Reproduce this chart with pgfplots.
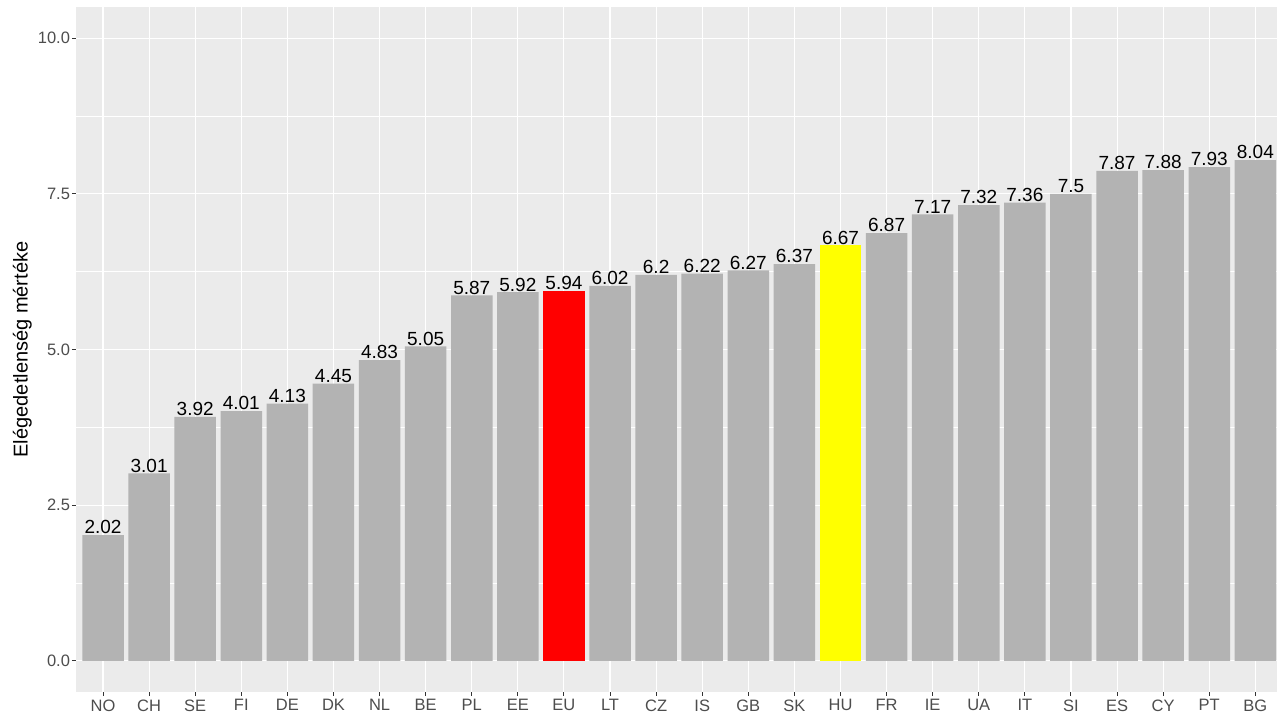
\documentclass[border=0pt]{standalone}
\usepackage{pgfplots}
\pgfplotsset{compat=1.18}
\usepackage{fontspec}
\setmainfont{Liberation Sans}
\definecolor{panel}{HTML}{EBEBEB}
\definecolor{barg}{HTML}{B3B3B3}
\definecolor{ticklab}{HTML}{4D4D4D}
\definecolor{tickc}{HTML}{333333}
\definecolor{redbar}{HTML}{FF0000}
\definecolor{yelbar}{HTML}{FFFF00}
\begin{document}
\begin{tikzpicture}
\useasboundingbox (-76bp,-25bp) rectangle (1207bp,692bp);
\begin{axis}[
  at={(0,0)}, anchor=south west,
  scale only axis, width=1201bp, height=685bp,
  xmin=0.414, xmax=26.47, ymin=-0.5, ymax=10.5,
  axis background/.style={fill=panel},
  axis line style={draw=none},
  xtick={1,...,26},
  xticklabels={NO,CH,SE,FI,DE,DK,NL,BE,PL,EE,EU,LT,CZ,IS,GB,SK,HU,FR,IE,UA,IT,SI,ES,CY,PT,BG},
  ytick={0,2.5,5,7.5,10},
  minor ytick={1.25,3.75,6.25,8.75},
  yticklabel style={xshift=1.5bp, /pgf/number format/.cd, fixed, fixed zerofill, precision=1, assume math mode=true},
  grid=both,
  major grid style={white, line width=1.1bp},
  minor grid style={white, line width=0.55bp},
  tick style={tickc, line width=1bp},
  major tick length=4bp,
  minor tick length=0pt,
  tick align=outside,
  xtick pos=left, ytick pos=left,
  ticklabel style={font=\fontsize{16.5bp}{18bp}\selectfont, text=ticklab},
  ylabel={Elégedetlenség mértéke},
  ylabel style={at={(axis description cs:0,0.5)}, anchor=south, inner sep=0pt, yshift=44bp, font=\fontsize{20bp}{22bp}\selectfont, text=black},
  nodes near coords,
  point meta=explicit symbolic,
  nodes near coords style={font=\fontsize{19bp}{21bp}\selectfont, text=black, anchor=base, inner sep=0pt, yshift=1.2bp},
]
\addplot[ybar, bar width=0.9, bar shift=0pt, fill=barg, draw=none] coordinates {
(1,2.02)[2.02] (2,3.01)[3.01] (3,3.92)[3.92] (4,4.01)[4.01] (5,4.13)[4.13]
(6,4.45)[4.45] (7,4.83)[4.83] (8,5.05)[5.05] (9,5.87)[5.87] (10,5.92)[5.92]
(12,6.02)[6.02] (13,6.2)[6.2] (14,6.22)[6.22] (15,6.27)[6.27] (16,6.37)[6.37]
(18,6.87)[6.87] (19,7.17)[7.17] (20,7.32)[7.32] (21,7.36)[7.36] (22,7.5)[7.5]
(23,7.87)[7.87] (24,7.88)[7.88] (25,7.93)[7.93] (26,8.04)[8.04]
};
\addplot[ybar, bar width=0.9, bar shift=0pt, fill=redbar, draw=none] coordinates {(11,5.94)[5.94]};
\addplot[ybar, bar width=0.9, bar shift=0pt, fill=yelbar, draw=none] coordinates {(17,6.67)[6.67]};
\end{axis}
\end{tikzpicture}
\end{document}
